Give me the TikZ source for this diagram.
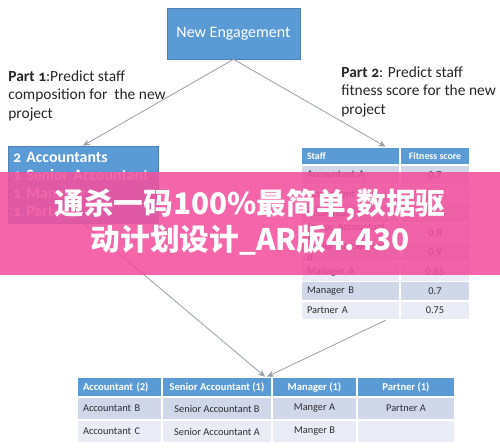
\documentclass[tikz,border=0pt]{standalone}
\usepackage{fontspec}
\setmainfont{Carlito}
\newfontfamily\cjk{Noto Sans CJK SC}
\usetikzlibrary{arrows.meta}

\definecolor{boxblue}{RGB}{91,155,213}
\definecolor{rowdark}{RGB}{207,215,232}
\definecolor{rowlight}{RGB}{233,236,244}
\definecolor{inkgray}{RGB}{45,45,50}
\definecolor{linegray}{RGB}{150,158,168}
\definecolor{bannerpink}{RGB}{242,80,158}

\tikzset{
  bluebox/.style={fill=boxblue, draw=boxblue!85!black, line width=0.4pt, text=white, inner sep=0pt},
  cell/.style={draw=white, line width=0.8pt, inner ysep=0pt, inner xsep=0.12cm, text=inkgray},
  headcell/.style={cell, fill=boxblue, text=white},
  leftcol/.style={text width=1.46cm, align=left},
  midcol/.style={align=center},
  link/.style={draw=linegray, line width=0.45pt, -{Stealth[length=4pt,width=3.5pt]}},
  parttext/.style={align=left, inner sep=0pt, text=black!85, font=\fontsize{8.8}{10.6}\selectfont}
}

\begin{document}
\begin{tikzpicture}[x=0.02cm,y=-0.02cm]
  \useasboundingbox (0,0) rectangle (500,448);

  %Top box
  \node[bluebox, minimum width=2.66cm, minimum height=1.02cm,
        font=\fontsize{9.1}{11}\selectfont] (eng) at (233.5,33.5) {New Engagement};

  %Part texts
  \node[parttext, anchor=north west] (part1) at (8,70)
    {\addfontfeatures{Numbers=OldStyle}\textbf{Part 1}:Predict staff\\composition for\ \ the new\\project};
  \node[parttext, anchor=north west] (part2) at (341,66)
    {\addfontfeatures{Numbers=OldStyle}\textbf{Part 2}: Predict staff\\fitness score for the new\\project};

  %Staff composition box
  \node[bluebox, minimum width=3cm, minimum height=1.54cm, text width=2.8cm, inner xsep=0.1cm,
        align=left, font=\fontsize{9}{10.3}\selectfont\bfseries\addfontfeatures{Numbers=OldStyle}]
    (acc) at (83,184.5) {2 Accountants\\1 Senior Accountant\\1 Manager\\1 Partner};

  %Fitness table
  \node[minimum width=3.38cm, minimum height=3.46cm, inner sep=0pt] (fit) at (385.5,233.5) {};
  \node[headcell, minimum width=1.98cm, minimum height=0.36cm, text width=1.74cm, align=left,
        font=\fontsize{5.6}{6.5}\selectfont\bfseries] (fit-h1) at (350.5,156) {Staff};
  \node[headcell, minimum width=1.4cm, minimum height=0.36cm, align=center,
        font=\fontsize{5.6}{6.5}\selectfont\bfseries] (fit-h2) at (435,156) {Fitness score};
  \foreach \who/\score [count=\i] in {Accountant A/0.7, Accountant B/, Accountant C/,
      Senior Accountant A/0.8, Senior Accountant B/0.9, Manager A/0.85, Manager B/0.7, Partner A/0.75} {
    \pgfmathsetmacro{\yc}{165+(\i-0.5)*19.4}
    \pgfmathsetmacro{\shade}{isodd(\i) ? "rowdark" : "rowlight"}
    \node[cell, fill=\shade, minimum width=1.98cm, minimum height=0.388cm, text width=1.74cm,
          align=left, font=\fontsize{5.9}{7}\selectfont] (fit-a\i) at (350.5,\yc) {\who};
    \node[cell, fill=\shade, minimum width=1.4cm, minimum height=0.388cm,
          align=center, font=\fontsize{5.9}{7}\selectfont] (fit-b\i) at (435,\yc) {\score};
  }

  %Team table
  \node[minimum width=7.56cm, minimum height=1.32cm, inner sep=0pt] (team) at (266,410) {};
  \foreach \head/\one/\two/\xl/\w [count=\c] in {
      Accountant (2)/Accountant B/Accountant C/77/85,
      Senior Accountant (1)/Senior Accountant B/Senior Accountant A/162/110,
      Manager (1)/Manger A/Manger B/272/85,
      Partner (1)/Partner A//357/98} {
    \pgfmathsetmacro{\xc}{\xl+\w/2}
    \pgfmathsetmacro{\wcm}{\w*0.02}
    \ifnum\c=1 \def\al{leftcol}\else\def\al{midcol}\fi
    \node[headcell, minimum width=\wcm cm, minimum height=0.4cm, \al,
          font=\fontsize{6}{7.2}\selectfont\bfseries] (team-h\c) at (\xc,387) {\head};
    \node[cell, fill=rowdark, minimum width=\wcm cm, minimum height=0.46cm, \al,
          font=\fontsize{5.9}{7}\selectfont] (team-a\c) at (\xc,408.5) {\one};
    \node[cell, fill=rowlight, minimum width=\wcm cm, minimum height=0.46cm, \al,
          font=\fontsize{5.9}{7}\selectfont] (team-b\c) at (\xc,431.5) {\two};
  }

  %Connectors
  \draw[link] (eng.south) -- (acc.north);
  \draw[link] (eng.south) -- (fit.north);
  \draw[link] (acc.south) -- ([xshift=-0.02cm]team.north);
  \draw[link] (fit.south) -- ([xshift=0.02cm]team.north);

  %Banner
  \fill[bannerpink, opacity=0.88] (0,172) rectangle (500,275);
  \node[text=white, font=\cjk\bfseries\fontsize{16.9}{20}\selectfont, inner sep=0pt] (ban1) at (250,205)
    {通杀一码100\%最简单,数据驱};
  \node[text=white, font=\cjk\bfseries\fontsize{16.9}{20}\selectfont, inner sep=0pt] (ban2) at (250,240)
    {动计划设计\_AR版4.430};
\end{tikzpicture}
\end{document}
